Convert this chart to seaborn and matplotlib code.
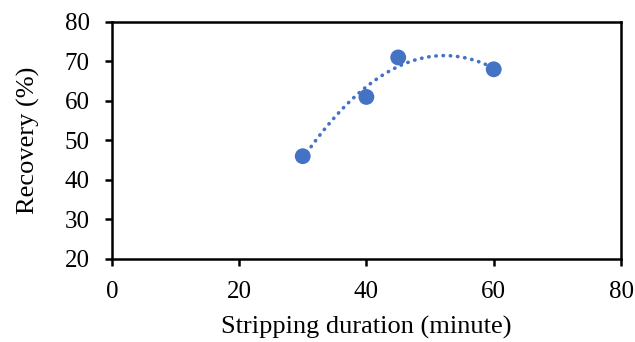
import matplotlib
matplotlib.use("Agg")
import matplotlib.pyplot as plt
import seaborn as sns
import pandas as pd

# Data
duration = [30, 40, 45, 60]
recovery = [46, 61, 71, 68]
x_ticks = [0, 20, 40, 60, 80]
y_ticks = [20, 30, 40, 50, 60, 70, 80]

df = pd.DataFrame({"duration": duration, "recovery": recovery})

sns.set_style("white")
plt.rcParams['font.family'] = ['Liberation Serif', 'DejaVu Serif']
plt.rcParams['text.color'] = 'black'
plt.rcParams['axes.labelcolor'] = 'black'
plt.rcParams['xtick.color'] = 'black'
plt.rcParams['ytick.color'] = 'black'

fig = plt.figure(figsize=(6.35, 3.42), dpi=100)
ax = fig.add_axes([0.176, 0.243, 0.802, 0.693])

blue = '#4472C4'
# polynomial (order 2) trendline, dotted, like the spreadsheet trendline
sns.regplot(data=df, x="duration", y="recovery", order=2, ci=None,
            scatter=False, ax=ax,
            line_kws=dict(color=blue, linestyle=(0, (0.1, 1.9)), linewidth=2.6,
                          dash_capstyle='round'))
sns.scatterplot(data=df, x="duration", y="recovery", ax=ax, color=blue,
                s=130, edgecolor='none', zorder=3)

ax.set_xlim(0, 80)
ax.set_ylim(20, 80)
ax.set_xticks(x_ticks)
ax.set_yticks(y_ticks)
ax.set_xlabel("Stripping duration (minute)", fontsize=19, labelpad=9)
ax.set_ylabel("Recovery (%)", fontsize=19, labelpad=18)
ax.tick_params(axis='x', pad=11)
ax.tick_params(axis='y', pad=11)
ax.tick_params(axis='both', labelsize=18, direction='out', length=5, width=1.8,
               left=True, bottom=True)

for side in ['left', 'bottom', 'top', 'right']:
    ax.spines[side].set_color('black')
    ax.spines[side].set_linewidth(1.8)

fig.savefig("out.png", dpi=100)
